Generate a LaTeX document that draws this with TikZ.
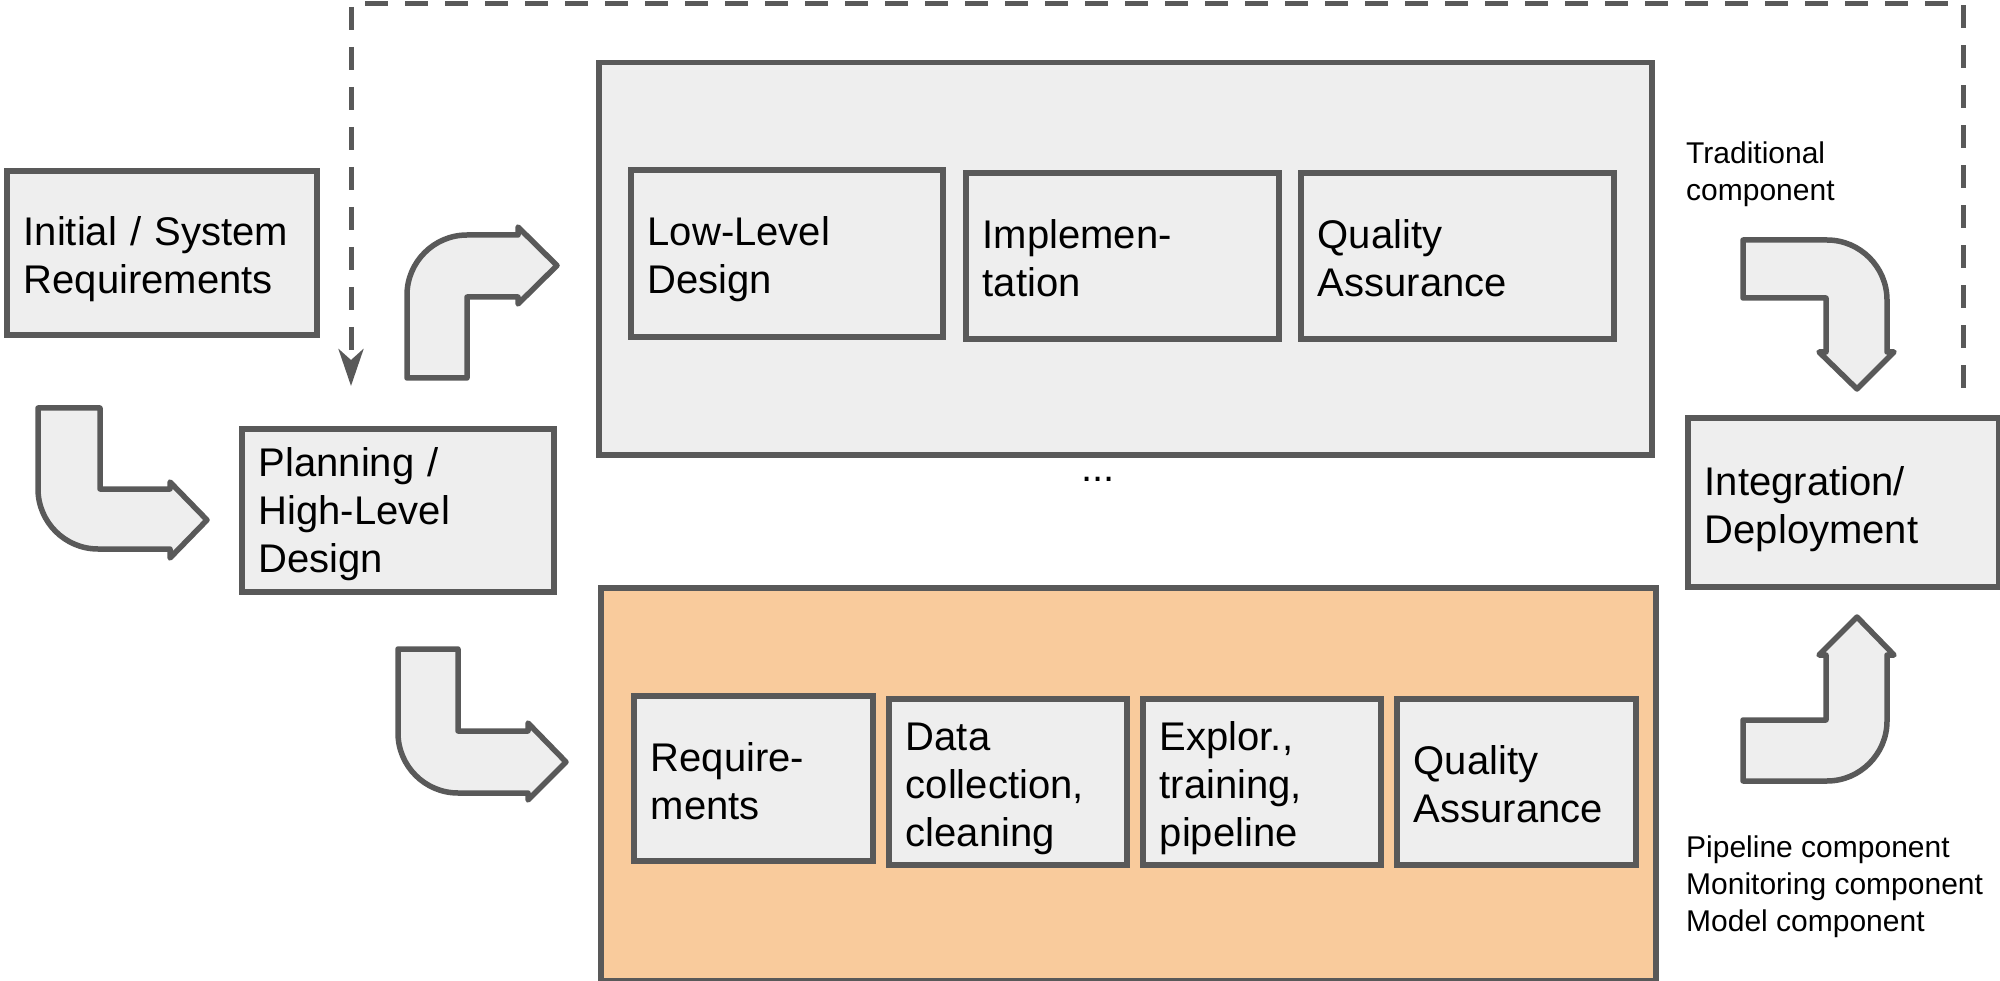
\documentclass[tikz,border=0pt]{standalone}
\usepackage{fontspec}
\setmainfont{Liberation Sans}
\usetikzlibrary{arrows.meta}
\definecolor{bd}{HTML}{595959}
\definecolor{gf}{HTML}{EEEEEE}
\definecolor{of}{HTML}{F9CB9C}
\newcommand{\tstr}{\rule{0pt}{42pt}}
\newcommand{\bstr}{\rule[-9pt]{0pt}{9pt}}
\begin{document}
\begin{tikzpicture}[x=1pt,y=-1pt,
  boxnode/.style={draw=bd, fill=gf, line width=5.5pt, inner xsep=17pt, inner ysep=0pt, align=left, anchor=west, font=\fontsize{40}{48}\selectfont},
  container/.style={draw=bd, line width=5.5pt, inner sep=0pt, anchor=north west},
  bentarrow/.style={draw=bd, fill=gf, line width=5.5pt, line join=round},
  smalltext/.style={font=\fontsize{30}{37}\selectfont, align=left, anchor=west, inner sep=0pt},
  dashline/.style={draw=bd, line width=5pt, dash pattern=on 23pt off 17pt, -{Stealth[length=37pt,width=25pt,inset=11pt]}}
]
\useasboundingbox (0,0) rectangle (2000,981);

% containers
\node[container, fill=gf, minimum width=1053pt, minimum height=392pt] (tcont) at (596,60) {};
\node[container, fill=of, minimum width=1055pt, minimum height=393pt] (bcont) at (598,585) {};

% left boxes
\node[boxnode, text width=276pt, minimum height=164pt] (init) at (4,253) {\tstr Initial / System\\Requirements\bstr};
\node[boxnode, text width=278pt, minimum height=163pt] (plan) at (239,510.5) {\rule{0pt}{37pt}Planning /\\High-Level\\Design\bstr};

% top row
\node[boxnode, text width=278pt, minimum height=167pt] (lld) at (628,253.5) {\tstr Low-Level\\Design\bstr};
\node[boxnode, text width=279pt, minimum height=166pt] (impl) at (963,256) {\tstr Implemen-\\tation\bstr};
\node[boxnode, text width=279pt, minimum height=166pt] (qa1) at (1298,256) {\tstr Quality\\Assurance\bstr};

\node[font=\fontsize{40}{48}\selectfont, anchor=base, inner sep=0pt] (dots) at (1098,481) {...};

% bottom row
\node[boxnode, text width=205pt, minimum height=165pt] (req) at (631,778.5) {\tstr Require-\\ments\bstr};
\node[boxnode, text width=204pt, minimum height=166pt] (data) at (886,782) {\tstr Data\\collection,\\cleaning\bstr};
\node[boxnode, text width=204pt, minimum height=166pt] (expl) at (1140,782) {\tstr Explor.,\\training,\\pipeline\bstr};
\node[boxnode, text width=205pt, minimum height=166pt] (qa2) at (1394,782) {\tstr Quality\\Assurance\bstr};

% right box
\node[boxnode, text width=277pt, minimum height=169pt] (integ) at (1685,502.5) {\tstr Integration/\\Deployment\bstr};

% labels
\node[smalltext] (trad) at (1686,174) {Traditional\\component};
\node[smalltext] (pipe) at (1686,887) {Pipeline component\\Monitoring component\\Model component};

% bent arrows
% 1: down then right into Planning
\draw[bentarrow] (38,408) -- (100,408) -- (100,489) -- (170,489) -- (170,482) -- (207,520) -- (170,558) -- (170,549)
  -- (98,549) .. controls (65,549) and (38,522) .. (38,489) -- cycle;
% 2: up then right into top container
\draw[bentarrow] (407,378) -- (467,378) -- (467,297) -- (518,297) -- (518,304) -- (557,265.5) -- (518,227) -- (518,235)
  -- (467,235) .. controls (434,235) and (407,262) .. (407,295) -- cycle;
% 3: down then right into bottom container
\draw[bentarrow] (398,649) -- (458,649) -- (458,731) -- (528,731) -- (528,723) -- (566,762) -- (528,800) -- (528,793)
  -- (458,793) .. controls (425,793) and (398,766) .. (398,733) -- cycle;
% 4: right then down into Integration
\draw[bentarrow] (1743,240) -- (1827,240) .. controls (1860,240) and (1887,267) .. (1887,300) -- (1887,352) -- (1894,352)
  -- (1857,389) -- (1819,352) -- (1826,352) -- (1826,298) -- (1743,298) -- cycle;
% 5: right then up into Integration
\draw[bentarrow] (1743,781) -- (1827,781) .. controls (1860,781) and (1887,754) .. (1887,721) -- (1887,655) -- (1894,655)
  -- (1857,617) -- (1819,655) -- (1826,655) -- (1826,720) -- (1743,720) -- cycle;

% dashed feedback
\coordinate (dstart) at (1963,388);
\coordinate (dcorner) at (1963,3.5);
\coordinate (dend) at (351,386);
\draw[dashline] (dstart) -- (dcorner) -| (dend);
\end{tikzpicture}
\end{document}
